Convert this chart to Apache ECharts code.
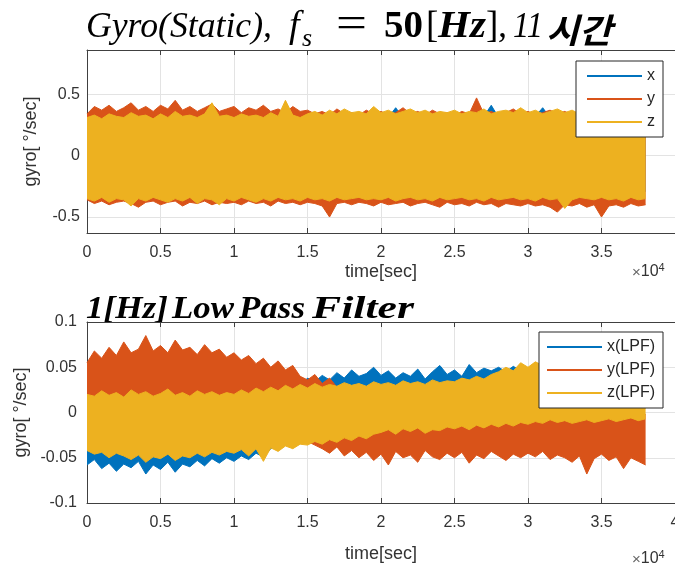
<!DOCTYPE html>
<html>
<head>
<meta charset="utf-8">
<script src="https://cdn.jsdelivr.net/npm/echarts@6/dist/echarts.min.js"></script>
<style>
html,body{margin:0;padding:0;background:#fff}
#main{width:675px;height:565px}
</style>
</head>
<body>
<div id="main"></div>
<script>
// sample times [sec], one envelope value every 500 s
var timeSec = [
  0,500,1000,1500,2000,2500,3000,3500,4000,4500,
  5000,5500,6000,6500,7000,7500,8000,8500,9000,9500,
  10000,10500,11000,11500,12000,12500,13000,13500,14000,14500,
  15000,15500,16000,16500,17000,17500,18000,18500,19000,19500,
  20000,20500,21000,21500,22000,22500,23000,23500,24000,24500,
  25000,25500,26000,26500,27000,27500,28000,28500,29000,29500,
  30000,30500,31000,31500,32000,32500,33000,33500,34000,34500,
  35000,35500,36000,36500,37000,37500,38000
]
// axis runs on to 4 x 10^4
var axisTailSec = [38500,39000,39500,40000]

// ---- raw gyro (upper / lower envelope of the noise band) ----
var rawXHi = [
  0.29,0.30,0.29,0.30,0.28,0.30,0.29,0.30,0.29,0.28,
  0.30,0.29,0.28,0.30,0.29,0.30,0.28,0.29,0.30,0.29,
  0.28,0.30,0.29,0.30,0.29,0.28,0.30,0.29,0.30,0.28,
  0.30,0.31,0.30,0.32,0.31,0.30,0.32,0.31,0.30,0.31,
  0.32,0.31,0.39,0.31,0.32,0.30,0.31,0.32,0.31,0.30,
  0.31,0.32,0.30,0.31,0.32,0.41,0.31,0.30,0.32,0.31,
  0.30,0.32,0.39,0.31,0.30,0.32,0.31,0.30,0.32,0.31,
  0.30,0.31,0.32,0.30,0.31,0.32,0.30
]
var rawXLo = [
  -0.30,-0.31,-0.30,-0.29,-0.31,-0.30,-0.31,-0.29,-0.30,-0.31,
  -0.30,-0.29,-0.31,-0.30,-0.31,-0.30,-0.29,-0.31,-0.30,-0.31,
  -0.29,-0.30,-0.31,-0.30,-0.29,-0.31,-0.30,-0.31,-0.30,-0.29,
  -0.31,-0.30,-0.29,-0.31,-0.30,-0.31,-0.30,-0.29,-0.31,-0.30,
  -0.30,-0.31,-0.29,-0.30,-0.31,-0.30,-0.29,-0.31,-0.30,-0.31,
  -0.29,-0.30,-0.31,-0.30,-0.29,-0.31,-0.30,-0.31,-0.30,-0.29,
  -0.31,-0.30,-0.29,-0.31,-0.30,-0.31,-0.30,-0.29,-0.31,-0.30,
  -0.30,-0.31,-0.29,-0.30,-0.31,-0.30,-0.29
]
var rawYHi = [
  0.34,0.40,0.37,0.41,0.36,0.39,0.43,0.37,0.40,0.36,
  0.41,0.38,0.45,0.37,0.40,0.36,0.39,0.42,0.36,0.38,
  0.40,0.35,0.39,0.37,0.41,0.36,0.38,0.35,0.40,0.36,
  0.37,0.34,0.36,0.33,0.38,0.34,0.35,0.33,0.37,0.34,
  0.36,0.33,0.35,0.39,0.34,0.36,0.33,0.37,0.34,0.35,
  0.33,0.36,0.34,0.47,0.34,0.36,0.33,0.35,0.38,0.34,
  0.36,0.33,0.35,0.37,0.34,0.36,0.33,0.35,0.34,0.36,
  0.33,0.35,0.34,0.36,0.33,0.35,0.34
]
var rawYLo = [
  -0.36,-0.39,-0.37,-0.40,-0.38,-0.37,-0.39,-0.42,-0.38,-0.37,
  -0.40,-0.38,-0.37,-0.41,-0.38,-0.39,-0.37,-0.40,-0.38,-0.39,
  -0.38,-0.40,-0.37,-0.39,-0.38,-0.41,-0.37,-0.39,-0.38,-0.40,
  -0.38,-0.39,-0.41,-0.50,-0.39,-0.38,-0.40,-0.38,-0.39,-0.41,
  -0.38,-0.40,-0.39,-0.38,-0.41,-0.39,-0.38,-0.40,-0.42,-0.38,
  -0.40,-0.39,-0.41,-0.38,-0.40,-0.39,-0.42,-0.39,-0.40,-0.41,
  -0.39,-0.41,-0.40,-0.42,-0.46,-0.40,-0.41,-0.39,-0.42,-0.40,
  -0.50,-0.41,-0.40,-0.42,-0.39,-0.41,-0.40
]
var rawZHi = [
  0.31,0.33,0.30,0.34,0.32,0.31,0.35,0.32,0.33,0.30,
  0.34,0.31,0.36,0.32,0.33,0.31,0.34,0.43,0.32,0.33,
  0.31,0.34,0.32,0.33,0.31,0.35,0.32,0.45,0.33,0.31,
  0.34,0.36,0.33,0.37,0.34,0.38,0.35,0.36,0.34,0.40,
  0.35,0.37,0.34,0.36,0.38,0.35,0.37,0.34,0.36,0.35,
  0.37,0.34,0.36,0.35,0.38,0.34,0.36,0.37,0.35,0.39,
  0.35,0.37,0.34,0.36,0.38,0.35,0.37,0.34,0.36,0.35,
  0.37,0.34,0.36,0.35,0.37,0.34,0.36
]
var rawZLo = [
  -0.35,-0.37,-0.34,-0.38,-0.35,-0.36,-0.41,-0.35,-0.37,-0.34,
  -0.36,-0.38,-0.35,-0.37,-0.34,-0.39,-0.35,-0.36,-0.40,-0.35,
  -0.37,-0.34,-0.36,-0.38,-0.35,-0.37,-0.34,-0.36,-0.35,-0.37,
  -0.34,-0.36,-0.35,-0.37,-0.34,-0.36,-0.35,-0.34,-0.36,-0.35,
  -0.36,-0.34,-0.37,-0.35,-0.34,-0.36,-0.35,-0.37,-0.34,-0.36,
  -0.35,-0.34,-0.36,-0.35,-0.37,-0.34,-0.36,-0.35,-0.34,-0.36,
  -0.35,-0.37,-0.34,-0.36,-0.35,-0.43,-0.36,-0.34,-0.35,-0.36,
  -0.34,-0.36,-0.35,-0.37,-0.34,-0.36,-0.35
]

// ---- 1 Hz low pass filtered ----
var lpfXHi = [
  -0.012,-0.010,-0.014,-0.011,-0.013,-0.009,-0.012,-0.010,-0.013,-0.011,
  -0.008,-0.010,-0.006,-0.007,-0.004,-0.005,-0.002,0.000,-0.001,0.003,
  0.006,0.004,0.009,0.012,0.010,0.016,0.020,0.024,0.033,0.029,
  0.038,0.034,0.041,0.036,0.044,0.038,0.047,0.040,0.043,0.050,
  0.041,0.046,0.038,0.044,0.040,0.048,0.037,0.045,0.052,0.042,
  0.047,0.040,0.053,0.044,0.049,0.046,0.050,0.045,0.051,0.046,
  0.040,0.043,0.041,0.044,0.042,0.040,0.043,0.041,0.042,0.040,
  0.041,0.043,0.040,0.042,0.041,0.040,0.042
]
var lpfXLo = [
  -0.058,-0.052,-0.062,-0.056,-0.065,-0.057,-0.061,-0.054,-0.068,-0.058,
  -0.063,-0.055,-0.066,-0.057,-0.060,-0.053,-0.059,-0.051,-0.056,-0.050,
  -0.054,-0.048,-0.052,-0.045,-0.049,-0.040,-0.035,-0.030,-0.025,-0.020,
  -0.015,-0.012,-0.010,-0.008,-0.006,-0.005,-0.004,-0.003,-0.002,-0.001,
  0.000,0.001,-0.001,0.002,0.000,0.001,-0.002,0.000,0.002,0.001,
  0.000,0.002,0.001,0.003,0.000,0.002,0.001,0.003,0.002,0.004,
  0.003,0.005,0.002,0.004,0.006,0.003,0.005,0.004,0.006,0.005,
  0.004,0.006,0.005,0.007,0.004,0.006,0.005
]
var lpfYHi = [
  0.055,0.068,0.060,0.072,0.063,0.078,0.066,0.070,0.085,0.068,
  0.074,0.066,0.080,0.069,0.072,0.064,0.075,0.066,0.070,0.061,
  0.066,0.058,0.063,0.054,0.060,0.050,0.057,0.047,0.052,0.040,
  0.036,0.042,0.032,0.038,0.028,0.030,0.024,0.026,0.020,0.022,
  0.005,0.000,0.004,-0.002,0.003,0.001,-0.003,0.002,0.000,-0.004,
  0.001,-0.002,0.000,-0.003,0.002,-0.001,-0.004,0.000,-0.002,-0.003,
  -0.001,-0.004,0.000,-0.003,-0.002,-0.005,-0.001,-0.003,-0.004,-0.002,
  -0.003,-0.001,-0.004,-0.002,-0.003,-0.005,-0.002
]
var lpfYLo = [
  0.010,0.012,0.008,0.011,0.009,0.013,0.010,0.012,0.009,0.011,
  0.010,0.008,0.011,0.009,0.007,0.010,0.006,0.008,0.005,0.007,
  0.004,0.002,0.003,-0.001,0.000,-0.004,-0.008,-0.014,-0.020,-0.026,
  -0.032,-0.036,-0.040,-0.045,-0.038,-0.048,-0.042,-0.050,-0.044,-0.053,
  -0.046,-0.058,-0.043,-0.050,-0.047,-0.055,-0.042,-0.049,-0.052,-0.045,
  -0.050,-0.044,-0.056,-0.047,-0.051,-0.043,-0.048,-0.053,-0.046,-0.050,
  -0.045,-0.049,-0.043,-0.052,-0.047,-0.050,-0.055,-0.048,-0.068,-0.051,
  -0.046,-0.053,-0.049,-0.062,-0.050,-0.054,-0.058
]
var lpfZHi = [
  0.020,0.018,0.024,0.019,0.022,0.017,0.025,0.020,0.023,0.018,
  0.021,0.026,0.019,0.022,0.018,0.024,0.020,0.023,0.019,0.022,
  0.020,0.025,0.021,0.027,0.023,0.028,0.024,0.030,0.026,0.031,
  0.027,0.032,0.028,0.031,0.029,0.033,0.030,0.032,0.029,0.034,
  0.031,0.033,0.030,0.035,0.032,0.034,0.031,0.036,0.033,0.035,
  0.034,0.038,0.036,0.040,0.037,0.042,0.045,0.050,0.046,0.055,
  0.050,0.056,0.052,0.058,0.051,0.049,0.053,0.048,0.050,0.047,
  0.049,0.046,0.048,0.045,0.047,0.044,0.046
]
var lpfZLo = [
  -0.042,-0.046,-0.044,-0.050,-0.045,-0.048,-0.052,-0.047,-0.055,-0.049,
  -0.051,-0.046,-0.053,-0.048,-0.050,-0.045,-0.049,-0.044,-0.047,-0.043,
  -0.045,-0.041,-0.048,-0.040,-0.054,-0.039,-0.043,-0.037,-0.040,-0.035,
  -0.036,-0.032,-0.035,-0.030,-0.033,-0.028,-0.031,-0.026,-0.029,-0.024,
  -0.022,-0.019,-0.024,-0.018,-0.021,-0.017,-0.023,-0.019,-0.020,-0.016,
  -0.018,-0.015,-0.019,-0.014,-0.017,-0.013,-0.016,-0.012,-0.015,-0.011,
  -0.013,-0.010,-0.012,-0.008,-0.011,-0.009,-0.012,-0.010,-0.008,-0.011,
  -0.009,-0.007,-0.010,-0.008,-0.006,-0.009,-0.007
]

var rawTicksY = [-0.5, 0, 0.5]

var colX = '#0072BD', colY = '#D95319', colZ = '#EDB120'
var axisColor = '#404040', textColor = '#333333', gridColor = '#e3e3e3'
var sansFont = '"Liberation Sans", Arial, sans-serif'
var serifFont = '"Liberation Serif", "DejaVu Serif", serif'
var cjkFont = '"Noto Sans CJK KR", sans-serif'

var axisSec = timeSec.concat(axisTailSec)

// a noise band = lower edge line + stacked filled difference
// z keeps x under y under z, like the plot order
function band(name, color, lo, hi, idx, z){
    var stackId = 'band_' + name
    var base = {
        type: 'line', xAxisIndex: idx, yAxisIndex: idx, z: z,
        stack: stackId, stackStrategy: 'all',
        symbol: 'none', silent: true,
        lineStyle: {color: color, width: 1},
        itemStyle: {color: color}
    }
    var lower = Object.assign({}, base, {
        name: name + '_lo',
        data: lo.slice()
    })
    var upper = Object.assign({}, base, {
        name: name,
        areaStyle: {color: color, opacity: 1},
        data: hi.map(function(h, i){ return h - lo[i] })
    })
    return [lower, upper]
}

function xAxes(gridIndex, nameGap, showLast){
    return [
        {
            gridIndex: gridIndex, type: 'category', position: 'bottom',
            data: axisSec, boundaryGap: false,
            axisLine: {onZero: false, lineStyle: {color: axisColor, width: 1}},
            axisTick: {inside: true, length: 5, interval: 9, lineStyle: {color: axisColor}},
            axisLabel: {
                interval: 9, fontSize: 16, fontFamily: sansFont, color: textColor, margin: 12,
                formatter: function(v){ if(v == 40000 && !showLast) return ''; return String(v / 10000) }
            },
            splitLine: {show: true, interval: 9, lineStyle: {color: gridColor, width: 1}},
            name: 'time[sec]', nameLocation: 'middle', nameGap: nameGap,
            nameTextStyle: {fontSize: 18, fontFamily: sansFont, color: textColor}
        },
        {
            gridIndex: gridIndex, type: 'category', position: 'top',
            data: axisSec, boundaryGap: false,
            axisLine: {onZero: false, lineStyle: {color: axisColor, width: 1}},
            axisTick: {inside: true, length: 5, interval: 9, lineStyle: {color: axisColor}},
            axisLabel: {show: false}, splitLine: {show: false}
        }
    ]
}

function yAxes(gridIndex, extra, labelMargin){
    var left = Object.assign({
        gridIndex: gridIndex, type: 'value', position: 'left',
        axisLine: {show: true, onZero: false, lineStyle: {color: axisColor, width: 1}},
        splitLine: {show: true, lineStyle: {color: gridColor, width: 1}},
        name: 'gyro[ °/sec]', nameLocation: 'middle', nameGap: 47,
        nameTextStyle: {fontSize: 18, fontFamily: sansFont, color: textColor}
    }, extra)
    left.axisTick = Object.assign({inside: true, length: 5, lineStyle: {color: axisColor}}, extra.axisTick || {})
    left.axisLabel = Object.assign({fontSize: 16, fontFamily: sansFont, color: textColor, margin: labelMargin}, extra.axisLabel || {})
    var right = Object.assign({}, extra, {
        gridIndex: gridIndex, type: 'value', position: 'right',
        axisLine: {show: true, onZero: false, lineStyle: {color: axisColor, width: 1}},
        axisTick: Object.assign({inside: true, length: 5, lineStyle: {color: axisColor}}, extra.axisTick || {}),
        axisLabel: {show: false}, splitLine: {show: false}
    })
    return [left, right]
}

// text laid out piece by piece; "at" = left x, "w" = width to stretch to
var measureCtx = document.createElement('canvas').getContext('2d')
function textRow(parts, x0, yBottom){
    var x = x0
    var out = []
    parts.forEach(function(p){
        var style = p.style || 'normal', weight = p.weight || 'normal'
        if(p.at != null) x = p.at
        measureCtx.font = style + ' ' + weight + ' ' + p.size + 'px ' + p.family
        var w = measureCtx.measureText(p.text).width
        var sx = p.w ? p.w / w : 1
        out.push({
            type: 'text', x: x, y: yBottom + (p.dy || 0), scaleX: sx, silent: true,
            style: {
                text: p.text, fill: p.color || '#000',
                fontSize: p.size, fontFamily: p.family, fontStyle: style, fontWeight: weight,
                verticalAlign: 'bottom'
            }
        })
        x += w * sx + (p.gap || 0)
    })
    return out
}

var titleTop = textRow([
    {text: 'Gyro(Static),', size: 36, family: serifFont, style: 'italic', at: 86, w: 186},
    {text: 'f', size: 38, family: serifFont, style: 'italic', at: 289},
    {text: 's', size: 26, family: serifFont, style: 'italic', dy: 6, at: 302},
    {text: '=', size: 44, family: serifFont, at: 336, w: 31, dy: 1},
    {text: '50', size: 37, family: serifFont, weight: 'bold', at: 384, w: 39},
    {text: '[', size: 37, family: serifFont, at: 426},
    {text: 'Hz', size: 37, family: serifFont, style: 'italic', weight: 'bold', at: 438, w: 48},
    {text: ']', size: 37, family: serifFont, at: 486},
    {text: ',', size: 36, family: serifFont, style: 'italic', at: 498},
    {text: '11', size: 36, family: serifFont, style: 'italic', at: 513, w: 30},
    {text: '시간', size: 34, family: cjkFont, style: 'italic', weight: 'bold', at: 546, w: 66, dy: 1}
], 86, 46)

var titleBottom = textRow([
    {text: '1[Hz]', size: 32, family: serifFont, style: 'italic', weight: 'bold', at: 86, w: 82},
    {text: 'Low', size: 32, family: serifFont, style: 'italic', weight: 'bold', at: 172, w: 62},
    {text: 'Pass', size: 32, family: serifFont, style: 'italic', weight: 'bold', at: 239, w: 66},
    {text: 'Filter', size: 32, family: serifFont, style: 'italic', weight: 'bold', at: 312, w: 102}
], 86, 326)

var expTop = textRow([
    {text: '×', size: 15, family: sansFont, color: '#666'},
    {text: '10', size: 16, family: sansFont, color: textColor},
    {text: '4', size: 11, family: sansFont, color: textColor, dy: -7}
], 632, 280)
var expBottom = textRow([
    {text: '×', size: 15, family: sansFont, color: '#666'},
    {text: '10', size: 16, family: sansFont, color: textColor},
    {text: '4', size: 11, family: sansFont, color: textColor, dy: -7}
], 632, 567)

var legendBase = {
    orient: 'vertical', icon: 'rect', itemWidth: 55, itemHeight: 2, itemGap: 7, z: 10,
    backgroundColor: '#fff', borderColor: '#262626', borderWidth: 1, borderRadius: 0,
    textStyle: {fontSize: 16, fontFamily: sansFont, color: '#262626'},
    selectedMode: false
}

var option = {
    animation: false,
    backgroundColor: '#fff',
    grid: [
        {left: 87, top: 50, right: 0, height: 183, outerBoundsMode: 'none', containLabel: false},
        {left: 87, top: 322, right: 0, height: 181, outerBoundsMode: 'none', containLabel: false}
    ],
    xAxis: xAxes(0, 30, false).concat(xAxes(1, 42, true)),
    yAxis: yAxes(0, {
        min: -0.63, max: 0.86,
        axisLabel: {customValues: rawTicksY},
        axisTick: {customValues: rawTicksY}
    }, 7).concat(yAxes(1, {min: -0.1, max: 0.1, interval: 0.05}, 10)),
    legend: [
        Object.assign({}, legendBase, {right: 12, top: 61, padding: [7, 8, 7, 11], data: ['x', 'y', 'z']}),
        Object.assign({}, legendBase, {right: 12, top: 332, padding: [7, 8, 7, 8], data: ['x(LPF)', 'y(LPF)', 'z(LPF)']})
    ],
    graphic: titleTop.concat(titleBottom, expTop, expBottom),
    series: [].concat(
        band('x', colX, rawXLo, rawXHi, 0, 2),
        band('y', colY, rawYLo, rawYHi, 0, 3),
        band('z', colZ, rawZLo, rawZHi, 0, 4),
        band('x(LPF)', colX, lpfXLo, lpfXHi, 2, 2),
        band('y(LPF)', colY, lpfYLo, lpfYHi, 2, 3),
        band('z(LPF)', colZ, lpfZLo, lpfZHi, 2, 4)
    )
}

var myChart = echarts.init(document.getElementById('main'))
myChart.setOption(option)
</script>
</body>
</html>
